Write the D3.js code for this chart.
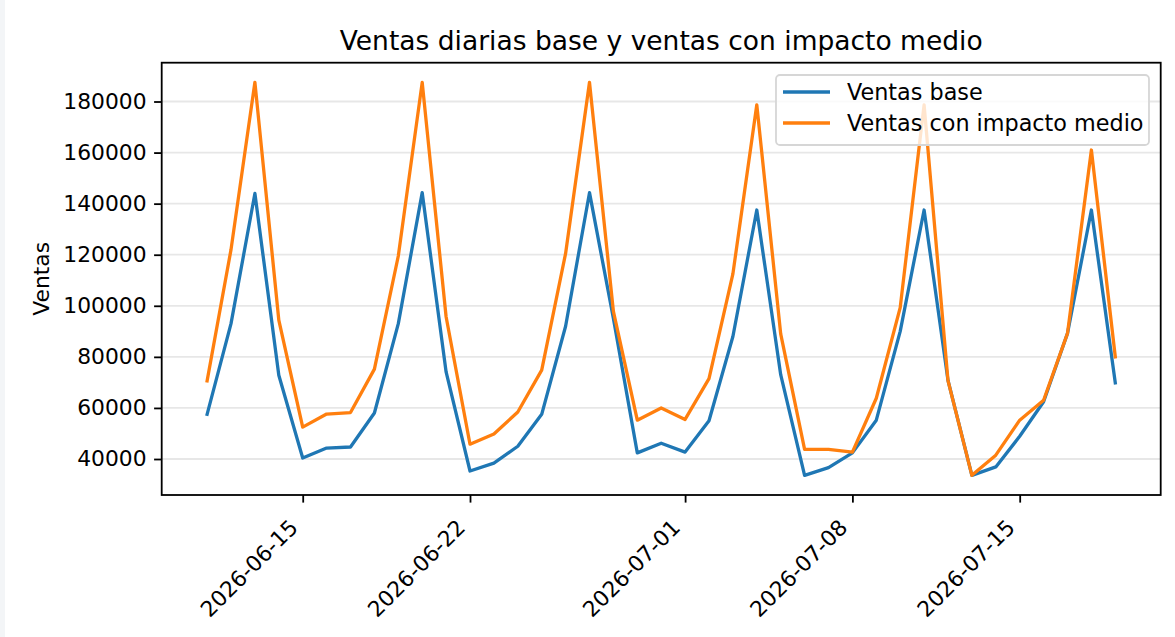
<!DOCTYPE html>
<html lang="es">
<head>
  <meta charset="UTF-8" />
  <title>Ventas diarias base y ventas con impacto medio</title>
  <style>
    html, body { margin: 0; padding: 0; background: #fff; }
    svg { display: block; font-family: "DejaVu Sans", sans-serif; }
  </style>
</head>
<body>
  <div id="chart"></div>

  <script src="https://d3js.org/d3.v7.min.js"></script>
  <script>
    // datos
    const fechas = [
      '2026-06-11', '2026-06-12', '2026-06-13', '2026-06-14', '2026-06-15', '2026-06-16', '2026-06-17',
      '2026-06-18', '2026-06-19', '2026-06-20', '2026-06-21', '2026-06-22', '2026-06-23', '2026-06-24',
      '2026-06-25', '2026-06-26', '2026-06-27', '2026-06-28', '2026-06-29', '2026-06-30', '2026-07-01',
      '2026-07-02', '2026-07-03', '2026-07-04', '2026-07-05', '2026-07-06', '2026-07-07', '2026-07-08',
      '2026-07-09', '2026-07-10', '2026-07-11', '2026-07-12', '2026-07-13', '2026-07-14', '2026-07-15',
      '2026-07-16', '2026-07-17', '2026-07-18', '2026-07-19'
    ];
    const ventasBase = [
      57500, 93000, 144000, 72800, 40400, 44300, 44700,
      58000, 93000, 144300, 74100, 35300, 38400, 45000,
      57500, 92000, 144300, 95000, 42400, 46200, 42700,
      55000, 88000, 137500, 73000, 33600, 36600, 42400,
      55200, 90000, 137500, 70800, 33600, 36900, 48900,
      62400, 89200, 137500, 69800
    ];
    const ventasImpacto = [
      70600, 122000, 187500, 94400, 52500, 57600, 58200,
      75200, 119500, 187500, 95700, 45800, 49800, 58400,
      74800, 120500, 187500, 97800, 55200, 60000, 55500,
      71500, 112500, 178700, 89000, 43800, 43800, 42700,
      63800, 99300, 178700, 70700, 33600, 41500, 55200,
      63000, 89200, 161000, 80000
    ];
    const xTicks = ['2026-06-15', '2026-06-22', '2026-07-01', '2026-07-08', '2026-07-15'];
    const yTicks = [40000, 60000, 80000, 100000, 120000, 140000, 160000, 180000];
    const series = [
      { name: 'Ventas base', values: ventasBase, color: '#1f77b4' },
      { name: 'Ventas con impacto medio', values: ventasImpacto, color: '#ff7f0e' }
    ];

    const width = 1175;
    const height = 637;
    const margin = { top: 62.7, right: 14.3, bottom: 142, left: 161.7 };
    const fs = 21.8; // 10pt
    const parse = d3.utcParse('%Y-%m-%d');
    const dates = fechas.map(parse);

    const svg = d3.select('#chart')
      .append('svg')
      .attr('width', width)
      .attr('height', height);

    svg.append('rect').attr('width', width).attr('height', height).attr('fill', '#fff');
    svg.append('rect').attr('width', 5).attr('height', height).attr('fill', '#f3f5f7');

    // márgenes automáticos del 5% como matplotlib
    const xExt = d3.extent(dates);
    const xPad = (xExt[1] - xExt[0]) * 0.05;
    const x = d3.scaleUtc()
      .domain([new Date(+xExt[0] - xPad), new Date(+xExt[1] + xPad)])
      .range([margin.left, width - margin.right]);

    const allVals = ventasBase.concat(ventasImpacto);
    const yMin = d3.min(allVals), yMax = d3.max(allVals);
    const yPad = (yMax - yMin) * 0.05;
    const y = d3.scaleLinear()
      .domain([yMin - yPad, yMax + yPad])
      .range([height - margin.bottom, margin.top]);

    // rejilla horizontal
    svg.append('g')
      .selectAll('line')
      .data(yTicks)
      .enter()
      .append('line')
      .attr('x1', margin.left)
      .attr('x2', width - margin.right)
      .attr('y1', d => y(d))
      .attr('y2', d => y(d))
      .attr('stroke', '#b0b0b0')
      .attr('stroke-opacity', 0.3)
      .attr('stroke-width', 1.8);

    // líneas
    const line = d3.line()
      .x((d, i) => x(dates[i]))
      .y(d => y(d));

    svg.append('g')
      .selectAll('path')
      .data(series)
      .enter()
      .append('path')
      .attr('d', d => line(d.values))
      .attr('fill', 'none')
      .attr('stroke', d => d.color)
      .attr('stroke-width', 3.3)
      .attr('stroke-linejoin', 'round')
      .attr('stroke-linecap', 'square');

    // ejes
    const yAxis = d3.axisLeft(y)
      .tickValues(yTicks)
      .tickSize(7.6)
      .tickPadding(7.6)
      .tickFormat(d3.format('d'));
    const gy = svg.append('g')
      .attr('transform', `translate(${margin.left},0)`)
      .call(yAxis);
    gy.select('.domain').remove();
    gy.selectAll('line').attr('stroke', '#000').attr('stroke-width', 1.8);
    gy.selectAll('text').attr('font-size', fs).attr('fill', '#000')
      .attr('font-family', '"DejaVu Sans", sans-serif');

    const xAxis = d3.axisBottom(x)
      .tickValues(xTicks.map(parse))
      .tickSize(7.6)
      .tickFormat(d3.utcFormat('%Y-%m-%d'));
    const gx = svg.append('g')
      .attr('transform', `translate(0,${height - margin.bottom})`)
      .call(xAxis);
    gx.select('.domain').remove();
    gx.selectAll('line').attr('stroke', '#000').attr('stroke-width', 1.8);
    gx.selectAll('text')
      .attr('font-size', fs)
      .attr('fill', '#000')
      .attr('font-family', '"DejaVu Sans", sans-serif')
      .attr('text-anchor', 'end')
      .attr('dy', null)
      .attr('y', null)
      .attr('transform', 'translate(-4,34) rotate(-45)');

    // marco
    svg.append('rect')
      .attr('x', margin.left)
      .attr('y', margin.top)
      .attr('width', width - margin.right - margin.left)
      .attr('height', height - margin.bottom - margin.top)
      .attr('fill', 'none')
      .attr('stroke', '#000')
      .attr('stroke-width', 1.8);

    // título y etiqueta
    svg.append('text')
      .attr('x', (margin.left + width - margin.right) / 2)
      .attr('y', 50)
      .attr('text-anchor', 'middle')
      .attr('font-size', 26.5)
      .text('Ventas diarias base y ventas con impacto medio');

    svg.append('text')
      .attr('transform', `translate(49,${(margin.top + height - margin.bottom) / 2}) rotate(-90)`)
      .attr('text-anchor', 'middle')
      .attr('font-size', fs)
      .text('Ventas');

    // leyenda
    const legend = svg.append('g').attr('transform', 'translate(776,75)');
    legend.append('rect')
      .attr('width', 373)
      .attr('height', 70)
      .attr('rx', 4)
      .attr('fill', '#fff')
      .attr('fill-opacity', 0.8)
      .attr('stroke', '#d6d6d6')
      .attr('stroke-width', 1.8);
    const item = legend.selectAll('g.item')
      .data(series)
      .enter()
      .append('g')
      .attr('class', 'item')
      .attr('transform', (d, i) => `translate(0,${17 + i * 31})`);
    item.append('line')
      .attr('x1', 7).attr('x2', 54)
      .attr('stroke', d => d.color)
      .attr('stroke-width', 3.3);
    item.append('text')
      .attr('x', 71)
      .attr('y', 7.8)
      .attr('font-size', 22.3)
      .text(d => d.name);
  </script>
</body>
</html>
